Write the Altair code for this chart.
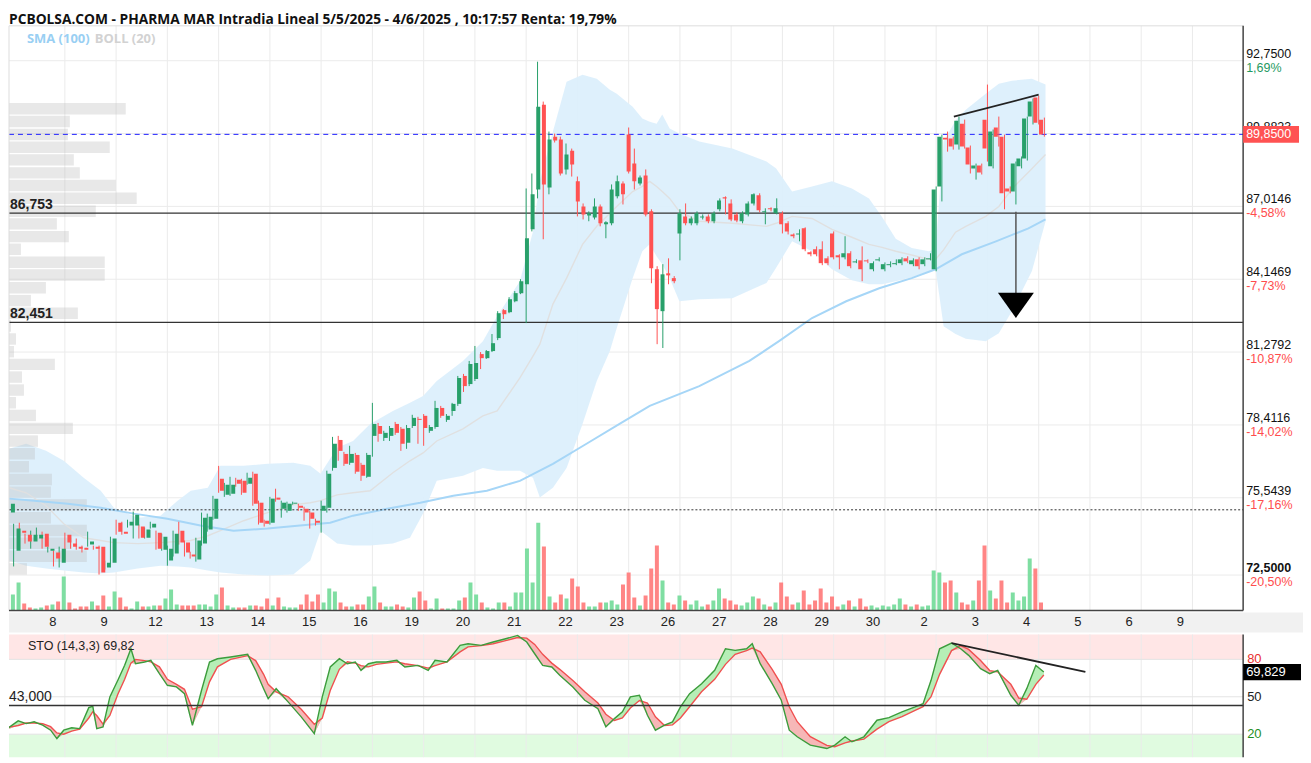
import altair as alt
import pandas as pd

# ---------------- DATA ----------------
first_bar = -10  # hourly bars; bar 0 = first bar of day "8"
opens = [74.96, 73.46, 74.25, 74.09, 73.82, 73.94, 74.13, 73.46, 73.39, 72.99,
         74.09, 73.74, 73.62, 73.58, 73.70, 73.62, 73.62, 72.80, 72.99,
         74.56, 74.21, 74.45, 74.45, 74.41, 73.97, 74.37, 74.17, 73.50,
         73.07, 73.35, 74.25, 73.78, 73.31, 73.11, 73.74, 74.29, 74.72,
         76.29, 75.66, 75.70, 76.25, 76.21, 76.10, 76.49, 75.35, 74.64,
         74.56, 75.55, 75.11, 75.03, 75.31, 75.23, 75.11, 74.96, 74.64,
         75.03, 75.15, 76.72, 77.82, 77.27, 76.92, 77.23, 76.84, 76.37,
         77.98, 78.37, 77.90, 77.98, 78.45, 78.26, 77.71, 78.37, 78.65,
         78.77, 78.18, 78.33, 79.08, 78.61, 78.96, 79.24, 80.34, 80.02,
         80.22, 81.20, 81.04, 81.32, 81.83, 82.93, 82.85, 83.28, 83.60,
         83.95, 86.11, 87.68, 91.02, 87.76, 89.76, 89.65, 88.47, 89.21,
         88.00, 87.01, 86.66, 86.58, 87.01, 86.31, 86.35, 87.41, 87.92,
         89.84, 88.70, 87.92, 88.23, 86.82, 84.54, 82.89, 84.38, 84.19,
         85.95, 86.62, 86.35, 86.35, 86.58, 86.62, 86.43, 86.90, 87.37,
         87.13, 86.70, 86.43, 86.70, 87.13, 87.45, 86.78, 86.94, 86.74,
         86.74, 86.35, 85.91, 85.91, 86.15, 85.21, 85.33, 85.33, 84.97,
         85.95, 85.09, 85.01, 85.17, 84.81, 84.89, 84.89, 84.54, 84.89,
         84.54, 84.70, 84.74, 84.78, 84.97, 84.74, 84.93, 84.74, 84.93,
         84.54, 87.80, 89.72, 89.69, 89.45, 90.27, 89.33, 88.51, 88.62,
         90.43, 88.59, 90.12, 89.76, 87.72, 87.60, 88.59, 88.90, 90.55,
         91.30, 90.43]
closes = [75.31, 74.33, 74.17, 73.82, 74.09, 74.09, 73.62, 73.54, 73.15, 73.54,
          73.78, 73.62, 73.54, 73.50, 73.82, 73.54, 72.60, 72.99, 73.94,
          74.21, 74.13, 74.60, 74.88, 73.97, 74.29, 74.52, 73.54, 74.01,
          73.54, 74.13, 73.78, 73.39, 73.23, 73.86, 74.76, 74.80, 75.51,
          75.82, 76.06, 76.06, 76.10, 75.74, 76.33, 75.31, 74.56, 74.52,
          75.51, 75.47, 75.35, 75.31, 75.35, 75.15, 74.96, 74.72, 74.56,
          75.23, 76.49, 77.67, 77.39, 76.88, 77.27, 76.57, 76.41, 77.23,
          78.45, 78.06, 78.10, 78.29, 78.10, 77.67, 78.29, 78.69, 78.61,
          78.29, 78.33, 79.08, 78.77, 78.77, 79.24, 80.26, 79.94, 80.81,
          80.85, 81.04, 81.32, 81.63, 82.81, 82.77, 83.36, 83.60, 84.07,
          85.76, 87.49, 90.94, 87.88, 89.65, 89.61, 88.31, 89.06, 88.66,
          87.21, 86.70, 86.74, 87.01, 86.35, 86.39, 87.68, 88.00, 87.49,
          88.39, 88.00, 88.15, 86.70, 84.58, 82.97, 84.34, 84.30, 84.07,
          86.74, 86.35, 86.54, 86.74, 86.62, 86.43, 86.74, 87.25, 87.33,
          86.50, 86.46, 86.74, 87.13, 87.49, 86.86, 86.82, 86.90, 86.94,
          86.31, 86.03, 85.84, 85.95, 85.33, 85.13, 85.13, 84.78, 84.78,
          85.01, 85.01, 85.17, 84.66, 84.85, 84.54, 84.85, 84.78, 84.93,
          84.74, 84.74, 84.78, 84.93, 84.85, 84.89, 84.66, 84.93, 84.97,
          87.68, 89.76, 89.65, 89.37, 90.39, 89.37, 88.66, 88.62, 88.35,
          89.29, 89.96, 89.76, 87.53, 87.60, 88.70, 88.90, 90.47, 91.14,
          90.31, 89.84]
highs = [75.43, 74.52, 74.56, 74.13, 74.25, 74.37, 74.21, 73.62, 73.46, 73.62,
         74.17, 73.82, 73.94, 73.66, 74.21, 73.66, 73.66, 73.07, 74.01,
         74.68, 74.60, 74.68, 75.00, 74.49, 74.37, 74.60, 74.25, 74.13,
         73.66, 74.25, 74.60, 73.86, 73.42, 73.97, 74.96, 74.92, 75.62,
         76.80, 76.13, 76.37, 76.33, 76.29, 76.53, 76.57, 75.43, 74.68,
         75.58, 75.90, 75.43, 75.39, 75.39, 75.31, 75.19, 75.03, 74.72,
         75.43, 76.61, 77.94, 77.98, 77.35, 77.59, 77.31, 76.92, 77.31,
         79.28, 78.49, 78.18, 78.37, 78.53, 78.33, 78.41, 78.81, 78.73,
         78.84, 78.41, 79.36, 79.16, 78.84, 79.28, 80.34, 80.42, 80.93,
         81.52, 81.28, 81.36, 81.99, 82.89, 82.97, 83.44, 83.68, 84.15,
         87.72, 88.31, 92.71, 91.14, 89.96, 89.88, 89.76, 89.49, 89.29,
         88.19, 87.13, 86.82, 87.33, 87.09, 86.43, 87.88, 88.23, 88.00,
         90.12, 89.29, 88.23, 88.47, 86.90, 84.66, 84.74, 84.97, 84.27,
         86.90, 87.13, 86.62, 86.82, 86.70, 86.70, 86.82, 87.33, 87.41,
         87.29, 86.78, 86.82, 87.21, 87.53, 87.53, 86.94, 86.98, 87.33,
         86.82, 86.43, 85.95, 86.11, 86.19, 85.25, 85.44, 85.64, 85.05,
         86.03, 85.13, 85.84, 85.25, 84.93, 85.44, 84.93, 84.85, 85.01,
         84.81, 84.85, 84.93, 85.01, 85.05, 84.97, 85.01, 85.01, 85.17,
         87.80, 89.84, 89.96, 89.76, 90.55, 90.43, 89.41, 88.70, 88.70,
         91.81, 90.04, 90.55, 89.84, 87.80, 88.78, 88.98, 90.55, 91.26,
         91.37, 90.51]
lows = [74.84, 72.84, 74.09, 73.74, 73.54, 73.86, 73.54, 73.39, 72.84, 72.80,
        73.07, 73.54, 73.50, 73.39, 73.62, 73.50, 72.52, 72.72, 72.95,
        74.09, 74.09, 74.37, 73.94, 73.94, 73.94, 74.33, 73.50, 73.46,
        72.87, 73.23, 73.70, 73.23, 73.15, 73.03, 73.66, 74.21, 74.68,
        75.74, 75.58, 75.62, 75.98, 75.66, 76.06, 75.23, 74.49, 74.41,
        74.49, 75.39, 74.76, 74.96, 75.27, 75.03, 74.64, 74.33, 74.45,
        74.17, 74.96, 76.61, 77.00, 76.80, 76.84, 76.49, 76.21, 76.33,
        77.16, 77.75, 77.78, 77.78, 78.02, 77.39, 77.47, 78.29, 77.67,
        77.59, 78.10, 78.26, 78.69, 78.53, 78.77, 79.16, 79.71, 79.94,
        80.14, 80.61, 81.01, 81.28, 81.75, 82.58, 82.81, 83.24, 83.56,
        82.42, 86.03, 87.33, 85.72, 87.49, 89.53, 88.23, 88.27, 88.19,
        86.62, 86.50, 86.43, 86.50, 86.23, 85.76, 86.27, 87.33, 87.09,
        88.31, 87.68, 87.84, 86.62, 83.99, 81.59, 81.44, 83.95, 83.99,
        84.89, 86.27, 86.27, 86.27, 86.50, 86.35, 86.35, 86.82, 86.70,
        86.43, 86.39, 86.35, 86.62, 87.05, 86.78, 86.31, 86.82, 86.70,
        85.95, 85.91, 85.76, 85.64, 85.25, 85.05, 85.05, 84.70, 84.70,
        84.93, 84.54, 84.93, 84.58, 84.78, 84.07, 84.78, 84.46, 84.85,
        84.46, 84.62, 84.70, 84.70, 84.78, 84.66, 84.54, 84.66, 84.89,
        84.46, 87.21, 89.17, 89.25, 89.25, 89.29, 88.31, 88.07, 88.27,
        88.78, 88.51, 89.37, 86.90, 87.53, 87.09, 88.51, 88.82, 90.24,
        90.24, 89.76]
volumes = [16, 28, 7, 3, 2, 3, 5, 6, 9, 34,
           8, 2, 4, 4, 9, 5, 15, 4, 19,
           13, 4, 2, 9, 4, 4, 5, 5, 12,
           21, 6, 5, 5, 5, 6, 6, 4, 16,
           23, 5, 3, 3, 3, 5, 5, 4, 12,
           5, 13, 4, 3, 3, 6, 16, 9, 16,
           8, 22, 19, 8, 4, 4, 6, 6, 14,
           24, 8, 4, 4, 6, 4, 3, 13, 19,
           10, 2, 12, 2, 2, 2, 10, 13, 28,
           16, 8, 3, 2, 8, 8, 4, 18, 18,
           62, 28, 88, 64, 14, 8, 16, 12, 32,
           24, 8, 4, 4, 8, 8, 10, 6, 26,
           38, 13, 5, 15, 42, 65, 30, 8, 6,
           15, 10, 6, 10, 4, 6, 10, 22, 12,
           10, 6, 5, 8, 14, 12, 6, 4, 8,
           28, 14, 6, 8, 20, 6, 10, 22, 8,
           14, 4, 6, 10, 4, 12, 4, 5, 3,
           5, 4, 6, 12, 6, 4, 6, 4, 5,
           40, 38, 28, 30, 18, 8, 6, 10, 30,
           65, 20, 12, 30, 8, 18, 10, 14, 52,
           42, 8]

day_labels = ["8", "9", "12", "13", "14", "15", "16", "19", "20", "21", "22", "23",
              "26", "27", "28", "29", "30", "2", "3", "4", "5", "6", "9"]
day_start = [0, 9, 18, 27, 36, 45, 54, 63, 72, 81, 90, 99,
             108, 117, 126, 135, 144, 153, 162, 171, 180, 189, 198]

bb_idx = [-9.8, -6.8, -3.3, -0.2, 3.3, 6.3, 8.6, 12.8, 16.8, 19.8, 22.1, 25.1, 27.3, 31.4,
          35.6, 40.1, 43.1, 44.9, 47.8, 50.6, 53.6, 57.6, 60.6, 62.9, 65.3, 69.9, 73.4,
          75.9, 79.9, 82.2, 83.4, 85.7, 88.1, 90.9, 93.4, 95.7, 96.9, 99.7, 101.4, 102.7,
          103.9, 104.9, 106.2, 107.9, 111.4, 117.2, 123.2, 124.9, 127.7, 131.2, 134.7,
          138.2, 141.2, 143.5, 145.9, 148.7, 151.7, 152.9, 154.3, 156.4, 158.2, 161.7,
          164.0, 166.3, 169.8, 172.2]
bb_upper = [77.47, 77.67, 77.39, 77.00, 76.33, 75.82, 75.15, 74.76, 74.84, 75.43, 75.82, 75.94,
            76.80, 76.80, 76.88, 76.92, 76.80, 76.49, 77.51, 77.78, 78.45, 78.96, 79.28, 79.55,
            80.14, 80.93, 81.71, 82.69, 84.07, 86.03, 88.00, 89.96, 91.92, 92.20, 92.04, 91.61,
            91.45, 90.94, 90.47, 90.35, 90.27, 90.63, 90.08, 89.88, 89.57, 89.29, 88.78, 88.51,
            87.60, 87.80, 88.00, 87.72, 87.33, 86.60, 85.74, 85.38, 85.25, 85.33, 89.57, 90.40,
            90.82, 91.45, 91.84, 91.96, 92.04, 91.81]
bb_mid = [75.94, 75.74, 75.23, 74.52, 73.97, 73.86, 73.78, 73.74, 73.78, 73.82, 73.86, 74.05,
          74.25, 74.64, 74.96, 75.27, 75.35, 75.43, 75.66, 75.74, 75.82, 76.53, 77.00, 77.31,
          77.78, 78.26, 78.77, 78.96, 80.26, 81.12, 81.59, 83.17, 84.19, 85.52, 86.23, 86.74,
          87.01, 87.60, 87.80, 88.00, 87.80, 87.60, 87.33, 86.82, 86.43, 86.35, 86.23, 86.35,
          86.62, 86.54, 86.11, 85.80, 85.52, 85.40, 85.25, 85.10, 84.93, 84.93, 85.30, 86.00,
          86.23, 86.62, 87.01, 87.70, 88.50, 89.06]
bb_lower = [73.07, 72.87, 72.76, 72.68, 72.60, 72.56, 72.60, 72.76, 72.87, 72.84, 72.80, 72.68,
            72.60, 72.52, 72.48, 72.52, 73.07, 74.25, 73.74, 73.66, 73.66, 73.74, 73.97, 74.92,
            76.21, 76.41, 76.72, 76.61, 76.61, 76.33, 75.55, 75.94, 76.72, 78.45, 80.14, 81.32,
            82.22, 84.19, 85.25, 85.52, 85.05, 84.74, 84.19, 83.28, 83.36, 83.40, 84.00, 84.60,
            85.64, 85.25, 84.54, 84.11, 83.95, 83.95, 84.07, 84.23, 84.46, 84.54, 82.30, 81.99,
            81.80, 81.71, 82.02, 82.89, 84.46, 86.42]

sma_idx = [-9.8, -5.4, 0.5, 6.3, 12.1, 18.0, 23.8, 29.6, 35.6, 41.3, 46.6, 50.6, 56.6, 62.4,
           68.2, 74.1, 79.9, 85.7, 91.6, 97.4, 102.7, 111.4, 120.2, 125.4, 131.2, 137.2,
           143.0, 148.7, 152.9, 157.5, 163.5, 169.2, 172.2]
sma_val = [75.51, 75.43, 75.31, 75.15, 74.92, 74.72, 74.45, 74.25, 74.33, 74.45, 74.56, 74.84,
           75.11, 75.35, 75.62, 75.82, 76.21, 76.88, 77.67, 78.45, 79.16, 79.94, 80.93, 81.71,
           82.62, 83.28, 83.79, 84.19, 84.54, 85.13, 85.64, 86.15, 86.50]

profile_low = [72.52, 73.02, 73.53, 74.03, 74.53, 75.04, 75.54, 76.04, 76.54, 77.05, 77.55,
               78.05, 78.56, 79.06, 79.56, 80.07, 80.57, 81.07, 81.57, 82.08, 82.58, 83.08,
               83.59, 84.09, 84.59, 85.10, 85.60, 86.10, 86.60, 87.11, 87.61, 88.11, 88.62,
               89.12, 89.62, 90.13, 90.63]
profile_vol = [18, 78, 63, 78, 42, 78, 42, 43, 20, 26, 29, 64, 27, 7, 15, 13, 46, 5, 7, 2,
               69, 22, 37, 96, 96, 12, 60, 48, 87, 128, 107, 71, 65, 101, 59, 61, 117]

tick_prices = [92.75, 89.8823, 87.0146, 84.1469, 81.2792, 78.4116, 75.5439, 72.5]
tick_text = ["92,7500", "89,8823", "87,0146", "84,1469", "81,2792", "78,4116", "75,5439", "72,5000"]
tick_pct = ["1,69%", "", "-4,58%", "-7,73%", "-10,87%", "-14,02%", "-17,16%", "-20,50%"]

support_levels = [86.753, 82.451]
support_text = ["86,753", "82,451"]
last_price = 89.85
dotted_level = 75.07
trend_idx = [156.1, 171.0]
trend_price = [90.55, 91.41]
arrow_idx = 167.0
arrow_from, arrow_to, arrow_head = 86.80, 83.60, 83.12

sto_idx = [-10.5, -8.2, -6.8, -5.4, -3.9, -2.5, -1.4, -0.2, 1.2, 2.6, 4.2, 4.9, 5.6, 6.7, 7.9,
           9.3, 10.5, 11.6, 12.4, 14.0, 15.1, 16.6, 18.0, 19.6, 21.0, 22.4, 24.0, 25.4, 26.8,
           29.1, 32.1, 33.5, 34.9, 35.7, 37.1, 39.2, 41.5, 43.8, 45.2, 46.6, 48.2, 49.6, 51.0,
           52.0, 53.3, 54.7, 56.4, 58.3, 59.7, 62.0, 63.8, 65.0, 67.1, 69.4, 70.8, 73.1, 75.2,
           77.4, 79.5, 81.1, 82.5, 83.9, 85.5, 86.9, 89.2, 91.3, 93.6, 95.0, 96.5, 97.9, 99.3,
           100.9, 102.3, 103.7, 105.3, 106.7, 108.1, 109.7, 111.8, 114.1, 116.0, 117.7, 119.7,
           120.7, 122.1, 124.2, 125.8, 127.2, 128.6, 130.9, 133.8, 135.2, 137.0, 138.2, 140.3,
           142.6, 144.7, 147.0, 149.3, 150.7, 152.1, 153.6, 155.7, 157.3, 158.7, 160.8, 162.4,
           163.8, 166.1, 167.5, 168.9, 170.5, 171.9]
sto_k = [23.2, 30.7, 28.5, 29.9, 27.2, 23.2, 16.5, 23.2, 25.1, 24.5,
         41.3, 42.4, 24.5, 25.9, 49.9, 63.2, 75.2, 88.5, 76.5, 77.9,
         79.2, 68.5, 59.2, 57.9, 52.5, 27.2, 55.2, 77.9, 80.5, 81.9,
         84.0, 71.2, 56.5, 48.5, 56.5, 45.9, 33.9, 20.5, 49.9, 73.9,
         80.5, 76.5, 77.9, 71.2, 76.5, 77.9, 77.9, 79.2, 73.9, 75.2,
         71.2, 79.2, 77.9, 91.2, 92.5, 91.2, 93.9, 96.5, 99.2, 93.9,
         84.5, 75.2, 73.9, 67.2, 57.9, 47.2, 40.5, 25.9, 32.5, 37.9,
         49.9, 51.2, 35.2, 23.2, 27.2, 29.9, 41.9, 52.5, 60.5, 71.2,
         88.5, 87.2, 88.5, 92.5, 76.5, 60.5, 47.2, 23.2, 17.9, 11.2,
         8.5, 11.2, 17.9, 13.9, 17.9, 31.2, 33.3, 37.9, 41.9, 44.5,
         63.2, 88.5, 93.1, 88.5, 83.2, 72.5, 68.5, 71.2, 51.2, 43.2,
         56.5, 75.2, 69.9]
sto_d = [25, 27, 29, 29, 28.5, 26, 21, 20, 22.5, 24,
         33, 38, 35, 28, 35, 52, 64, 77, 80, 79,
         78, 74, 64, 60, 56, 40, 42, 62, 74, 80,
         83, 79, 68, 60, 54, 50, 40, 28, 33, 55,
         72, 78, 77, 75, 74, 76, 77, 78, 76.5, 75,
         73, 75, 78, 86, 90, 91, 92.5, 95, 97.5, 97,
         92, 84, 77, 72, 63, 54, 45, 36, 31, 33,
         41, 47, 45, 34, 27, 27.5, 33, 42, 54, 64,
         76, 84, 87, 89, 86, 72, 60, 42, 30, 18,
         11, 10, 13, 14.5, 16, 24, 30, 34, 39, 42,
         50, 68, 87, 91, 88, 79, 71, 70, 60, 49,
         48, 60, 67.5]
sto_last = 69.829
sto_ref_line = 43.0
sto_trend_idx = [155.7, 179.2]
sto_trend_val = [93.0, 69.9]
sto_levels = [80, 50, 20]
sto_level_colors = ["#e8302f", "#222222", "#1f8f1f"]

title = "PCBOLSA.COM - PHARMA MAR Intradia Lineal 5/5/2025 - 4/6/2025 , 10:17:57 Renta: 19,79%"

# ---------------- LAYOUT / STYLE ----------------
# plot-local y = page y - 24 (title sits above the plot area)
W, H = 1237, 733
PANEL_T, PANEL_B = 0, 586          # main price panel frame
STRIP_T, STRIP_B = 588, 608        # date strip
STO_T = 610                        # stochastic panel top
FONT = "Liberation Sans"
G_BODY, R_BODY = "#28a06a", "#ff5252"
G_VOL, R_VOL = "#7fdea2", "#ff8585"
GRID = "#ebebeb"

XS = alt.Scale(domain=[-9.81, 206.9], nice=False, zero=False)
PS = alt.Scale(domain=[71.107, 94.28], range=[586, -4], nice=False, zero=False)
VS = alt.Scale(domain=[0, 590], range=[586, -4], nice=False, zero=False)
SS = alt.Scale(domain=[0, 100], range=[735, STO_T], nice=False, zero=False)


def X(f):
    return alt.X(f"{f}:Q", scale=XS, axis=None)


def PY(f):
    return alt.Y(f"{f}:Q", scale=PS, axis=None)


def SY(f):
    return alt.Y(f"{f}:Q", scale=SS, axis=None)


one = pd.DataFrame({"a": [0]})
up = "datum.c >= datum.o"

cdf = pd.DataFrame({"i": list(range(first_bar, first_bar + len(opens))),
                    "o": opens, "h": highs, "l": lows, "c": closes, "v": volumes})
days = pd.DataFrame({"d": day_start, "lab": day_labels})
ticks = pd.DataFrame({"p": tick_prices, "t": tick_text, "pct": tick_pct,
                      "pc": ["#1f9a62"] + ["#ff4d4d"] * 7})
bb = pd.DataFrame({"i": bb_idx, "u": bb_upper, "m": bb_mid, "lo": bb_lower})
sma = pd.DataFrame({"i": sma_idx, "s": sma_val})
prof = pd.DataFrame({"lo": profile_low, "pv": profile_vol})
sup = pd.DataFrame({"p": support_levels, "t": support_text})
sto = pd.DataFrame({"i": sto_idx, "k": sto_k, "d": sto_d})

layers = []

# --- main panel grid ---
layers.append(alt.Chart(days).mark_rule(color=GRID, strokeWidth=1).encode(
    x=X("d"), y=alt.value(PANEL_T), y2=alt.value(PANEL_B)))
layers.append(alt.Chart(ticks).mark_rule(color=GRID, strokeWidth=1).encode(
    y=PY("p"), x=alt.value(0), x2=alt.value(W)))

# --- Bollinger band ---
layers.append(alt.Chart(bb).mark_area(color="#dceffc", opacity=0.95, clip=True).encode(
    x=X("i"), y=PY("u"), y2="lo"))

# --- volume profile ---
layers.append(alt.Chart(prof).transform_calculate(hi="datum.lo + 0.45").mark_rect(
    color="#b9b9b9", opacity=0.33).encode(
    x=alt.X("pv:Q", scale=alt.Scale(domain=[0, W], nice=False, zero=False), axis=None),
    x2=alt.value(0), y=PY("lo"), y2="hi"))

# --- volume bars ---
layers.append(alt.Chart(cdf).mark_bar(size=4, clip=True).encode(
    x=X("i"), y=alt.Y("v:Q", scale=VS, axis=None),
    color=alt.condition(up, alt.value(G_VOL), alt.value(R_VOL))))

# --- BB middle, SMA ---
layers.append(alt.Chart(bb).mark_line(color="#e0e0e0", strokeWidth=1.4, clip=True).encode(
    x=X("i"), y=PY("m")))
layers.append(alt.Chart(sma).mark_line(color="#a6d6f7", strokeWidth=2, clip=True).encode(
    x=X("i"), y=PY("s")))

# --- horizontal levels ---
layers.append(alt.Chart(sup).mark_rule(color="#333333", strokeWidth=1.3).encode(
    y=PY("p"), x=alt.value(0), x2=alt.value(W)))
layers.append(alt.Chart(pd.DataFrame({"p": [dotted_level]})).mark_rule(
    color="#333333", strokeWidth=1, strokeDash=[2, 2]).encode(
    y=PY("p"), x=alt.value(0), x2=alt.value(W)))
layers.append(alt.Chart(pd.DataFrame({"p": [last_price]})).mark_rule(
    color="#2020ff", strokeWidth=1, strokeDash=[5, 4]).encode(
    y=PY("p"), x=alt.value(0), x2=alt.value(W)))

# --- candles ---
layers.append(alt.Chart(cdf).mark_rule(strokeWidth=1, clip=True).encode(
    x=X("i"), y=PY("l"), y2="h",
    color=alt.condition(up, alt.value(G_BODY), alt.value(R_BODY))))
layers.append(alt.Chart(cdf).mark_bar(size=4, clip=True).encode(
    x=X("i"), y=PY("o"), y2="c",
    color=alt.condition(up, alt.value(G_BODY), alt.value(R_BODY))))

# --- annotations ---
layers.append(alt.Chart(pd.DataFrame({"i": trend_idx, "p": trend_price})).mark_line(
    color="#222222", strokeWidth=1.8).encode(x=X("i"), y=PY("p")))
layers.append(alt.Chart(pd.DataFrame({"i": [arrow_idx], "a": [arrow_from], "b": [arrow_to]})).mark_rule(
    color="#555555", strokeWidth=1.5).encode(x=X("i"), y=PY("a"), y2="b"))
layers.append(alt.Chart(pd.DataFrame({"i": [arrow_idx], "p": [arrow_head]})).mark_point(
    shape="M -1 -0.7 L 1 -0.7 L 0 0.7 Z", size=1296, filled=True, opacity=1,
    color="#000000", strokeWidth=0).encode(x=X("i"), y=PY("p")))

# --- panel frame ---
layers.append(alt.Chart(one).mark_rule(color="#dddddd", strokeWidth=1).encode(
    x=alt.value(0), x2=alt.value(W), y=alt.value(PANEL_T)))
layers.append(alt.Chart(one).mark_rule(color="#dddddd", strokeWidth=1).encode(
    x=alt.value(0), y=alt.value(PANEL_T), y2=alt.value(PANEL_B)))
layers.append(alt.Chart(one).mark_rule(color="#444444", strokeWidth=1.5).encode(
    x=alt.value(W), y=alt.value(PANEL_T), y2=alt.value(PANEL_B)))
layers.append(alt.Chart(one).mark_rule(color="#444444", strokeWidth=1.5).encode(
    x=alt.value(0), x2=alt.value(W), y=alt.value(PANEL_B)))

# --- main texts ---
layers.append(alt.Chart(sup).mark_text(align="left", baseline="bottom", dy=-1, fontSize=14,
                                       fontWeight="bold", font=FONT, color="#222222").encode(
    x=alt.value(1), y=PY("p"), text="t:N"))
layers.append(alt.Chart(ticks.iloc[:-1]).mark_text(align="left", baseline="alphabetic", dy=-3,
                                                   fontSize=12.5, font=FONT, color="#111111").encode(
    x=alt.value(W + 3), y=PY("p"), text="t:N"))
layers.append(alt.Chart(ticks.iloc[-1:]).mark_text(align="left", baseline="alphabetic", dy=-3,
                                                   fontSize=12.5, fontWeight="bold", font=FONT,
                                                   color="#111111").encode(
    x=alt.value(W + 3), y=PY("p"), text="t:N"))
layers.append(alt.Chart(ticks).mark_text(align="left", baseline="top", dy=1, fontSize=12.5,
                                         font=FONT).encode(
    x=alt.value(W + 3), y=PY("p"), text="pct:N", color=alt.Color("pc:N", scale=None)))
layers.append(alt.Chart(pd.DataFrame({"p": [last_price]})).mark_point(
    shape="M 0 -0.3 L 2 -0.3 L 2 0.3 L 0 0.3 Z", size=3136, filled=True, opacity=1,
    color="#ff5252", strokeWidth=0).encode(x=alt.value(W), y=PY("p")))
layers.append(alt.Chart(pd.DataFrame({"p": [last_price], "t": ["89,8500"]})).mark_text(
    align="left", baseline="middle", fontSize=12.5, font=FONT, color="#ffffff").encode(
    x=alt.value(W + 3), y=PY("p"), text="t:N"))
layers.append(alt.Chart(one).mark_text(align="left", baseline="middle", fontSize=13,
                                       fontWeight="bold", font="Open Sans", color="#99cff3").encode(
    x=alt.value(18), y=alt.value(13), text=alt.value("SMA (100)")))
layers.append(alt.Chart(one).mark_text(align="left", baseline="middle", fontSize=13,
                                       fontWeight="bold", font="Open Sans", color="#d2d2d2").encode(
    x=alt.value(86), y=alt.value(13), text=alt.value("BOLL (20)")))
layers.append(alt.Chart(one).mark_text(align="left", baseline="alphabetic", fontSize=13.8,
                                       fontWeight="bold", font="Open Sans", color="#111111").encode(
    x=alt.value(0), y=alt.value(-2), text=alt.value(title)))

# --- date strip ---
layers.append(alt.Chart(one).mark_rect(color="#f1f1f1").encode(
    x=alt.value(0), x2=alt.value(W + 60), y=alt.value(STRIP_T), y2=alt.value(STRIP_B)))
layers.append(alt.Chart(days).mark_text(align="center", baseline="middle", dx=-12, fontSize=13,
                                        font=FONT, color="#222222").encode(
    x=X("d"), y=alt.value((STRIP_T + STRIP_B) / 2), text="lab:N"))

# --- stochastic panel ---
zones = pd.DataFrame({"lo": [80, 0], "hi": [100, 20], "c": ["#ffe6e6", "#e0fbe0"]})
layers.append(alt.Chart(zones).mark_rect(clip=True).encode(
    x=alt.value(0), x2=alt.value(W), y=SY("lo"), y2="hi", color=alt.Color("c:N", scale=None)))
layers.append(alt.Chart(days).mark_rule(color=GRID, strokeWidth=1).encode(
    x=X("d"), y=alt.value(STO_T), y2=alt.value(H)))
layers.append(alt.Chart(pd.DataFrame({"v": sto_levels})).mark_rule(color="#e4e4e4", strokeWidth=1).encode(
    y=SY("v"), x=alt.value(0), x2=alt.value(W)))
layers.append(alt.Chart(sto).transform_calculate(mn="min(datum.k, datum.d)").mark_area(
    color="#b6eeb6", clip=True).encode(x=X("i"), y=SY("k"), y2="mn"))
layers.append(alt.Chart(sto).transform_calculate(mn="min(datum.k, datum.d)").mark_area(
    color="#f6b7b7", clip=True).encode(x=X("i"), y=SY("d"), y2="mn"))
layers.append(alt.Chart(sto).mark_line(color="#f05050", strokeWidth=1.4, clip=True).encode(
    x=X("i"), y=SY("d")))
layers.append(alt.Chart(sto).mark_line(color="#3c9c3c", strokeWidth=1.4, clip=True).encode(
    x=X("i"), y=SY("k")))
layers.append(alt.Chart(pd.DataFrame({"v": [sto_ref_line]})).mark_rule(color="#333333", strokeWidth=1.5).encode(
    y=SY("v"), x=alt.value(0), x2=alt.value(W)))
layers.append(alt.Chart(pd.DataFrame({"i": sto_trend_idx, "v": sto_trend_val})).mark_line(
    color="#222222", strokeWidth=1.8).encode(x=X("i"), y=SY("v")))
layers.append(alt.Chart(one).mark_rule(color="#444444", strokeWidth=1.5).encode(
    x=alt.value(W), y=alt.value(STO_T), y2=alt.value(H)))
layers.append(alt.Chart(one).mark_text(align="left", baseline="middle", fontSize=12.5, font=FONT,
                                       color="#222222").encode(
    x=alt.value(19), y=alt.value(STO_T + 12), text=alt.value("STO (14,3,3)   69,82")))
layers.append(alt.Chart(pd.DataFrame({"v": [sto_ref_line], "t": ["43,000"]})).mark_text(
    align="left", baseline="bottom", dy=-2, fontSize=14, font=FONT, color="#222222").encode(
    x=alt.value(0), y=SY("v"), text="t:N"))
layers.append(alt.Chart(pd.DataFrame({"v": sto_levels, "t": [str(s) for s in sto_levels],
                                      "c": sto_level_colors})).mark_text(
    align="left", baseline="middle", fontSize=13, font=FONT).encode(
    x=alt.value(W + 4), y=SY("v"), text="t:N", color=alt.Color("c:N", scale=None)))
layers.append(alt.Chart(pd.DataFrame({"v": [sto_last]})).mark_point(
    shape="M 0 -0.28 L 2 -0.28 L 2 0.28 L 0 0.28 Z", size=3364, filled=True, opacity=1,
    color="#000000", strokeWidth=0).encode(x=alt.value(W), y=SY("v")))
layers.append(alt.Chart(pd.DataFrame({"v": [sto_last], "t": ["69,829"]})).mark_text(
    align="left", baseline="middle", fontSize=13, font=FONT, color="#ffffff").encode(
    x=alt.value(W + 3), y=SY("v"), text="t:N"))

chart = alt.layer(*layers).resolve_scale(x="independent", y="independent").properties(
    width=W, height=H, padding={"left": 0, "top": 4, "right": 0, "bottom": 0}
).configure_view(strokeWidth=0)

chart.save("out.html", embed_options={"renderer": "svg", "actions": False})
